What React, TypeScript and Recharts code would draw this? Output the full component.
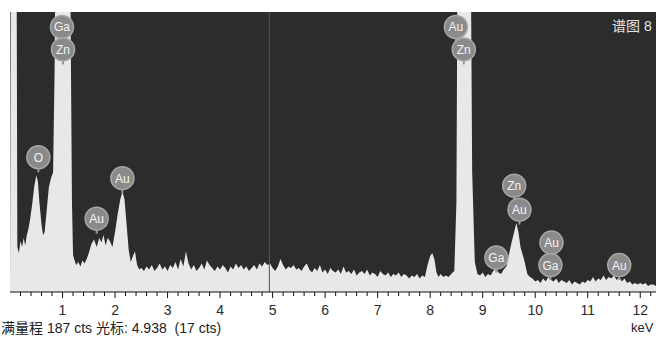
import React from 'react';
import { AreaChart, Area, XAxis, YAxis, CartesianGrid, ReferenceLine, ReferenceDot } from 'recharts';

// EDS spectrum, [keV, cts]; full scale 187 cts, the two main peaks go off scale
const SPECTRUM: [number, number][] = [
  [0, 4], [0.02, 300], [0.12, 300], [0.14, 30],
  [0.17, 26], [0.2, 34], [0.23, 30], [0.26, 36], [0.29, 31], [0.32, 38], [0.35, 42],
  [0.38, 48], [0.42, 58], [0.46, 70], [0.5, 78], [0.53, 74], [0.56, 60], [0.6, 45], [0.63, 38], [0.66, 40],
  [0.7, 55], [0.74, 70], [0.78, 76], [0.82, 80], [0.85, 150], [0.88, 300], [1.12, 300], [1.15, 200], [1.18, 60], [1.2, 25],
  [1.22, 22], [1.26, 18], [1.3, 20], [1.34, 17], [1.38, 21], [1.42, 19], [1.46, 22],
  [1.5, 26], [1.55, 32], [1.6, 35], [1.65, 30], [1.7, 36], [1.74, 33], [1.78, 38], [1.82, 31], [1.86, 36], [1.9, 34], [1.95, 30],
  [2.0, 40], [2.05, 52], [2.1, 62], [2.14, 67], [2.18, 62], [2.22, 45], [2.26, 28], [2.3, 20], [2.34, 24], [2.38, 27], [2.42, 18], [2.46, 15],
  [2.5, 16], [2.55, 14], [2.6, 17], [2.65, 15], [2.7, 18], [2.75, 14], [2.8, 16], [2.85, 19], [2.9, 15], [2.95, 17],
  [3.0, 14], [3.05, 18], [3.1, 16], [3.15, 20], [3.2, 15], [3.25, 22], [3.3, 17], [3.35, 27], [3.4, 19], [3.45, 15],
  [3.5, 18], [3.55, 14], [3.6, 16], [3.65, 19], [3.7, 15], [3.75, 21], [3.8, 18], [3.85, 16], [3.9, 14], [3.95, 17],
  [4.0, 15], [4.05, 18], [4.1, 16], [4.15, 13], [4.2, 17], [4.25, 15], [4.3, 19], [4.35, 16], [4.4, 18], [4.45, 15],
  [4.5, 17], [4.55, 14], [4.6, 16], [4.65, 18], [4.7, 15], [4.75, 19], [4.8, 17], [4.85, 20], [4.9, 18], [4.95, 19],
  [5.0, 16], [5.05, 14], [5.1, 17], [5.15, 22], [5.2, 18], [5.25, 15], [5.3, 17], [5.35, 16], [5.4, 18], [5.45, 15],
  [5.5, 16], [5.55, 14], [5.6, 17], [5.65, 19], [5.7, 15], [5.75, 13], [5.8, 16], [5.85, 14], [5.9, 18], [5.95, 13],
  [6.0, 15], [6.05, 12], [6.1, 16], [6.15, 14], [6.2, 13], [6.25, 15], [6.3, 12], [6.35, 17], [6.4, 13], [6.45, 14],
  [6.5, 12], [6.55, 15], [6.6, 11], [6.65, 13], [6.7, 14], [6.75, 12], [6.8, 15], [6.85, 11], [6.9, 13], [6.95, 12],
  [7.0, 10], [7.05, 14], [7.1, 12], [7.15, 11], [7.2, 13], [7.25, 10], [7.3, 12], [7.35, 11], [7.4, 13], [7.45, 10],
  [7.5, 12], [7.55, 11], [7.6, 9], [7.65, 11], [7.7, 10], [7.75, 12], [7.8, 9], [7.85, 11], [7.9, 10],
  [7.95, 18], [8.0, 24], [8.04, 26], [8.08, 22], [8.12, 13], [8.16, 10], [8.2, 12], [8.25, 10], [8.3, 11], [8.35, 10], [8.4, 12],
  [8.46, 14], [8.5, 60], [8.53, 300], [8.76, 300], [8.8, 80], [8.85, 20], [8.9, 12],
  [8.95, 11], [9.0, 13], [9.05, 10], [9.1, 12], [9.15, 11], [9.2, 14], [9.25, 16], [9.3, 13], [9.35, 12], [9.4, 15],
  [9.45, 17], [9.5, 25], [9.55, 33], [9.6, 40], [9.64, 46], [9.68, 40], [9.72, 30], [9.76, 25], [9.8, 20], [9.85, 12], [9.9, 10],
  [9.95, 9], [10.0, 7], [10.05, 8], [10.1, 6], [10.15, 9], [10.2, 7], [10.25, 10], [10.3, 8], [10.35, 7], [10.4, 9],
  [10.45, 6], [10.5, 8], [10.55, 7], [10.6, 6], [10.65, 8], [10.7, 5], [10.75, 7], [10.8, 6], [10.85, 5], [10.9, 7],
  [10.95, 6], [11.0, 8], [11.05, 7], [11.1, 10], [11.15, 7], [11.2, 9], [11.25, 8], [11.3, 11], [11.35, 8], [11.4, 10],
  [11.45, 9], [11.5, 11], [11.55, 8], [11.6, 10], [11.65, 7], [11.7, 9], [11.75, 6], [11.8, 7], [11.85, 5], [11.9, 6],
  [11.95, 5], [12.0, 6], [12.05, 5], [12.1, 6], [12.15, 4], [12.2, 5], [12.25, 5], [12.3, 4],
];

// peak markers: element, position of bubble (keV, cts)
const LABEL_TEXT = ['Ga', 'Zn', 'O', 'Au', 'Au', 'Au', 'Zn', 'Zn', 'Au', 'Ga', 'Au', 'Ga', 'Au'];
const LABEL_KEV = [0.99, 1.01, 0.54, 1.65, 2.14, 8.49, 8.64, 9.6, 9.7, 9.26, 10.31, 10.29, 11.6];
const LABEL_CTS = [177, 162, 90, 49, 76, 177, 162, 71, 55, 23, 33, 18, 18];

const X_MAX = 12.27;
const Y_MAX = 187;
const CURSOR_KEV = 4.938;
const TICKS = Array.from({ length: 61 }, (_, i) => Math.round((i + 1) * 2) / 10);

const data = SPECTRUM.map(([kev, cts]) => ({ kev, cts }));

const KevTick = (props: any) => {
  const { x, y, payload } = props;
  const v = payload.value;
  const major = Math.abs(v - Math.round(v)) < 1e-6;
  return (
    <g>
      <line x1={x} x2={x} y1={y} y2={y + (major ? 6 : 4)} stroke="#111" />
      {major && (
        <text x={x} y={y + 23} textAnchor="middle" fontSize={14} fill="#2a2a2a" fontFamily="'Liberation Sans', Arial">
          {Math.round(v)}
        </text>
      )}
    </g>
  );
};

const Bubble = ({ cx, cy, text }: any) => (
  <g>
    <line x1={cx} x2={cx} y1={cy + 9} y2={cy + 15} stroke="#9a9a9a" strokeWidth={2} />
    <circle cx={cx} cy={cy} r={11.5} fill="#8a8a8a" stroke="#a8a8a8" strokeWidth={1.5} />
    <text x={cx} y={cy + 4.5} textAnchor="middle" fontSize={12} fill="#f4f4f4" fontFamily="'Liberation Sans', Arial">
      {text}
    </text>
  </g>
);

const font = "'Liberation Sans', 'Noto Sans CJK SC', Arial, sans-serif";

export default function App() {
  return (
    <div style={{ position: 'absolute', left: 0, top: 0, width: 656, height: 337, overflow: 'hidden', background: '#fff' }}>
      <AreaChart width={656} height={337} data={data} margin={{ top: 12, right: 0, bottom: 0, left: 10 }}>
        <CartesianGrid horizontal={false} vertical={false} fill="#2c2c2c" fillOpacity={1} />
        <XAxis
          dataKey="kev"
          type="number"
          domain={[0, X_MAX]}
          ticks={TICKS}
          interval={0}
          height={45}
          tickSize={0}
          tickMargin={0}
          tickLine={false}
          axisLine={{ stroke: '#111' }}
          tick={<KevTick />}
        />
        <YAxis hide domain={[0, Y_MAX]} allowDataOverflow />
        <Area
          type="linear"
          dataKey="cts"
          stroke="none"
          fill="#e8e8e8"
          fillOpacity={1}
          isAnimationActive={false}
        />
        <ReferenceLine x={CURSOR_KEV} stroke="#555" strokeWidth={1} />
        {LABEL_TEXT.map((t, i) => (
          <ReferenceDot
            key={i}
            x={LABEL_KEV[i]}
            y={LABEL_CTS[i]}
            ifOverflow="visible"
            shape={(p: any) => <Bubble cx={p.cx} cy={p.cy} text={t} />}
          />
        ))}
      </AreaChart>
      <div style={{ position: 'absolute', left: 612, top: 15, fontFamily: font, fontSize: 14, color: '#e4e4e4', whiteSpace: 'nowrap' }}>
        谱图 8
      </div>
      <div style={{ position: 'absolute', left: 1, top: 320, lineHeight: '16px', fontFamily: font, fontSize: 14, color: '#222', whiteSpace: 'nowrap' }}>
        满量程 187 cts 光标: 4.938&nbsp;&nbsp;(17 cts)
      </div>
      <div style={{ position: 'absolute', left: 631, top: 320, lineHeight: '16px', fontFamily: font, fontSize: 13, color: '#222', whiteSpace: 'nowrap' }}>
        keV
      </div>
    </div>
  );
}
